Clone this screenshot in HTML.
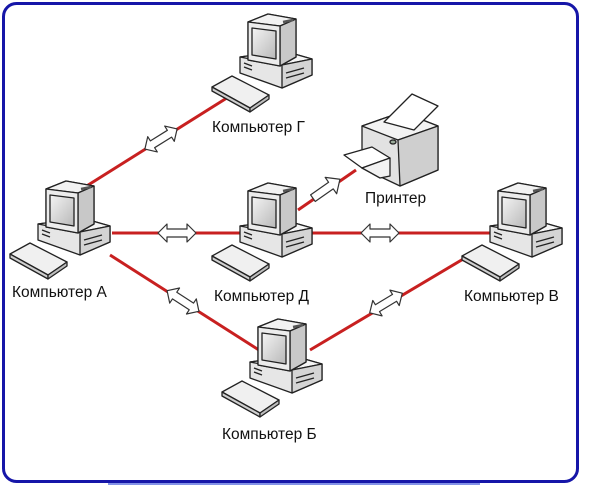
<!DOCTYPE html>
<html><head><meta charset="utf-8"><style>
html,body{margin:0;padding:0;background:#fff;}
svg{display:block;}
text{font-family:"Liberation Sans",Arial,sans-serif;font-size:15.5px;fill:#111;}
</style></head><body>
<svg width="615" height="493" viewBox="0 0 615 493" xmlns="http://www.w3.org/2000/svg">
<defs>
<linearGradient id="scr" x1="0" y1="0" x2="1" y2="1"><stop offset="0" stop-color="#f4f4f4"/><stop offset="1" stop-color="#b8b8b8"/></linearGradient>
<g id="pc" stroke="#222" stroke-width="1.3" stroke-linejoin="round">
  <polygon points="28,44 72,38 100,46 100,62 70,75 28,60" fill="#e6e6e6"/>
  <polygon points="28,44 72,38 100,46 70,52" fill="#f6f6f6"/>
  <polygon points="70,52 100,46 100,62 70,75" fill="#d4d4d4"/>
  <line x1="74" y1="60" x2="92" y2="55"/><line x1="74" y1="65" x2="92" y2="60"/>
  <line x1="32" y1="50" x2="40" y2="53"/><line x1="32" y1="54" x2="40" y2="57"/>
  <polygon points="36,9 56,1 84,6 84,44 68,53 36,47" fill="#dcdcdc"/>
  <polygon points="36,9 56,1 84,6 68,13" fill="#f2f2f2"/>
  <polygon points="68,13 84,6 84,44 68,53" fill="#c8c8c8"/>
  <polygon points="36,9 68,13 68,53 36,47" fill="#ececec"/>
  <polygon points="40,15 64,18 64,46 40,42" fill="url(#scr)"/>
  <line x1="71" y1="9" x2="81" y2="7" stroke-width="2.5" stroke="#555"/>
  <polygon points="0,74 20,63 57,82 38,95" fill="#f0f0f0"/>
  <polygon points="0,74 38,95 38,99 0,78" fill="#cfcfcf"/>
  <polygon points="38,95 57,82 57,86 38,99" fill="#bdbdbd"/>
</g>
<g id="arr" fill="#fff" stroke="#333" stroke-width="1.2" stroke-linejoin="round">
  <polygon points="-19,0 -10,-9 -10,-4 10,-4 10,-9 19,0 10,9 10,4 -10,4 -10,9"/>
</g>
</defs>
<rect x="3.5" y="3.5" width="574" height="478" rx="13" fill="none" stroke="#1616a8" stroke-width="3"/>
<line x1="108" y1="484" x2="480" y2="484" stroke="#5a6ee0" stroke-width="1.5"/>
<g stroke="#c82020" stroke-width="3" fill="none">
  <line x1="85" y1="187" x2="230" y2="96"/>
  <line x1="112" y1="233" x2="240" y2="233"/>
  <line x1="110" y1="255" x2="262" y2="352"/>
  <line x1="300" y1="233" x2="490" y2="233"/>
  <line x1="310" y1="350" x2="470" y2="255"/>
  <line x1="298" y1="210" x2="356" y2="170"/>
</g>
<use href="#arr" transform="translate(161,139) rotate(-32)"/>
<use href="#arr" transform="translate(177,233)"/>
<use href="#arr" transform="translate(183,301) rotate(33)"/>
<use href="#arr" transform="translate(380,233)"/>
<use href="#arr" transform="translate(386,303) rotate(-31)"/>
<g fill="#fff" stroke="#333" stroke-width="1.2" stroke-linejoin="round" transform="translate(326,189) rotate(-35)">
  <polygon points="-16,-4 6,-4 6,-10 17,0 6,10 6,4 -16,4"/>
</g>
<use href="#pc" x="10" y="180"/>
<use href="#pc" x="212" y="13"/>
<use href="#pc" x="212" y="182"/>
<use href="#pc" x="462" y="182"/>
<use href="#pc" x="222" y="318"/>
<g stroke="#222" stroke-width="1.3" stroke-linejoin="round">
  <polygon points="362,126 402,112 438,126 438,170 400,186 362,168" fill="#e2e2e2"/>
  <polygon points="362,126 402,112 438,126 398,140" fill="#f3f3f3"/>
  <polygon points="398,140 438,126 438,170 400,186" fill="#cfcfcf"/>
  <polygon points="384,122 412,94 438,106 414,130" fill="#fff"/>
  <ellipse cx="393" cy="142" rx="3" ry="2" fill="#9a9"/>
  <polygon points="344,155 372,147 390,158 362,168" fill="#fff"/>
  <polygon points="362,168 390,158 390,176 380,178" fill="#f2f2f2"/>
</g>
<text x="212" y="132">Компьютер Г</text>
<text x="365" y="203">Принтер</text>
<text x="12" y="297">Компьютер А</text>
<text x="214" y="301">Компьютер Д</text>
<text x="464" y="301">Компьютер В</text>
<text x="222" y="439">Компьютер Б</text>
</svg>
</body></html>
